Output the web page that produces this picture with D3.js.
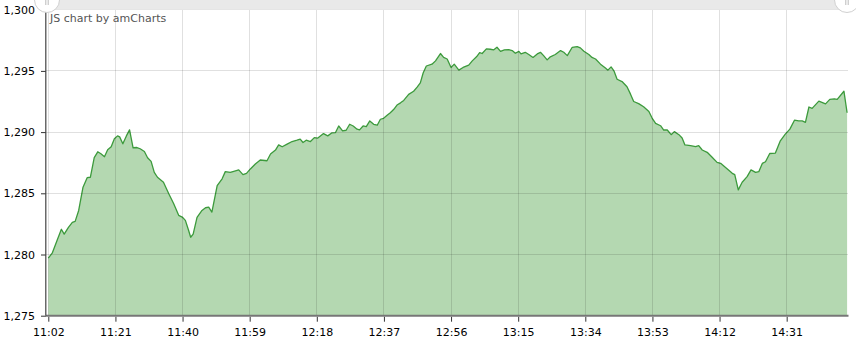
<!DOCTYPE html>
<html>
<head>
<meta charset="utf-8">
<script src="https://cdn.jsdelivr.net/npm/d3@7"></script>
<style>
  body { margin: 0; background: #fff; }
  svg { display: block; font-family: "DejaVu Sans", Verdana, sans-serif; }
</style>
</head>
<body>
<svg id="chart" width="856" height="340"></svg>
<script>
// minutes elapsed since 11:02, and the price read at that moment
const minutes = [
  0, 1.1, 2.5, 3.7, 4.5, 5.7, 6.8, 7.6, 8.6, 9.8, 11, 11.9, 13, 14, 14.9, 15.9, 16.8, 17.8, 18.7, 19.6,
  20.2, 21.1, 22.1, 23, 24, 25.1, 26, 27.2, 28.1, 29.1, 30, 30.9, 32.6, 34.1, 35.5, 36.9, 37.9, 38.8, 39.7, 40.3,
  41, 42.1, 43.5, 44.5, 45.4, 46.3, 47.8, 49.2, 50.1, 51.5, 52.5, 53.9, 55.1, 56.1, 57.2, 58.6, 60, 61.9, 62.9, 64.3,
  65.2, 66.2, 67.6, 69, 70.4, 71.3, 72.1, 73, 74.2, 75.3, 76.2, 77.9, 79.1, 80.3, 81.3, 82.2, 83.3, 84.3, 85.3, 86.3,
  87.4, 88.1, 89.1, 90, 91, 92.1, 93.1, 94, 94.9, 95.9, 96.8, 97.8, 98.7, 99.7, 100.6, 102, 103.4, 104.4, 105.3, 106.1,
  107, 108.6, 109.6, 111, 111.9, 112.9, 114, 114.9, 116.2, 117.4, 119, 120, 121.2, 122.1, 122.8, 124, 125.1, 126.1, 127, 128,
  129.1, 130.3, 131.3, 132.2, 133.2, 133.8, 135, 136, 137.2, 138.4, 139.3, 140.2, 141.2, 142.1, 143.5, 145, 145.9, 146.9, 148.3, 149.7,
  150.6, 151.6, 153, 153.9, 154.9, 156.3, 157.7, 158.4, 159.3, 160.1, 161, 162.4, 163.8, 164.8, 165.7, 167.1, 168.5, 170, 170.9, 171.9,
  173.3, 174.2, 175.2, 176.3, 177.2, 178.5, 179.4, 180.2, 181.8, 183.2, 184.1, 185.1, 186.5, 187.9, 189.3, 190.3, 192.2, 193.6, 194.3, 195.3,
  196.4, 197.8, 198.9, 200.2, 201.1, 202.1, 203, 204.2, 205.8, 207.2, 208.6, 209.9, 211.2, 212.4, 213.4, 214.3, 215.3, 216.2, 218.1, 220,
  221.2, 222.5, 223.3, 225.2, 226.1
];
const prices = [
  1279.71, 1280.11, 1281.17, 1282.06, 1281.66, 1282.22, 1282.63, 1282.71, 1283.6, 1285.47, 1286.28, 1286.31, 1287.91, 1288.39, 1288.23, 1287.99, 1288.56, 1288.8, 1289.45, 1289.69,
  1289.61, 1289.04, 1289.69, 1290.18, 1288.72, 1288.74, 1288.64, 1288.42, 1287.91, 1287.61, 1286.71, 1286.31, 1285.9, 1284.96, 1284.15, 1283.2, 1283.06, 1282.79, 1281.98, 1281.41,
  1281.66, 1283.04, 1283.6, 1283.82, 1283.87, 1283.47, 1285.63, 1286.18, 1286.77, 1286.71, 1286.79, 1286.91, 1286.53, 1286.63, 1286.99, 1287.39, 1287.72, 1287.66, 1288.21, 1288.53,
  1288.96, 1288.8, 1289.02, 1289.23, 1289.34, 1289.42, 1289.15, 1289.34, 1289.23, 1289.55, 1289.5, 1289.88, 1289.69, 1289.94, 1289.96, 1290.5, 1290.1, 1290.15, 1290.64, 1290.5,
  1290.24, 1290.18, 1290.5, 1290.45, 1290.91, 1290.64, 1290.56, 1291.05, 1291.13, 1291.37, 1291.58, 1291.86, 1292.21, 1292.39, 1292.59, 1293.08, 1293.34, 1293.67, 1294.02, 1294.83,
  1295.4, 1295.55, 1295.82, 1296.42, 1296.1, 1295.97, 1295.28, 1295.55, 1295.06, 1295.28, 1295.47, 1295.82, 1296.15, 1296.5, 1296.42, 1296.8, 1296.77, 1296.72, 1296.93, 1296.6,
  1296.72, 1296.74, 1296.66, 1296.44, 1296.6, 1296.39, 1296.52, 1296.34, 1296.1, 1296.39, 1296.52, 1296.25, 1295.9, 1296.15, 1296.34, 1296.66, 1296.52, 1296.25, 1296.93, 1296.99,
  1296.88, 1296.6, 1296.34, 1296.1, 1295.97, 1295.55, 1295.23, 1295.06, 1295.33, 1295.01, 1294.32, 1294.13, 1293.7, 1293.1, 1292.5, 1292.33, 1292.07, 1291.68, 1291.15, 1290.71,
  1290.52, 1290.17, 1290.17, 1289.79, 1290.04, 1289.79, 1289.52, 1288.95, 1288.89, 1288.81, 1288.89, 1288.54, 1288.35, 1287.94, 1287.53, 1287.45, 1286.99, 1286.63, 1286.53, 1285.28,
  1285.9, 1286.36, 1286.91, 1286.71, 1286.77, 1287.44, 1287.58, 1288.25, 1288.29, 1289.29, 1289.83, 1290.24, 1290.97, 1290.91, 1290.91, 1290.8, 1292.05, 1291.94, 1292.53, 1292.31,
  1292.67, 1292.72, 1292.67, 1293.34, 1291.58
];
const timeTicks = ["11:02", "11:21", "11:40", "11:59", "12:18", "12:37", "12:56", "13:15", "13:34", "13:53", "14:12", "14:31"];
const priceTicks = [1275, 1280, 1285, 1290, 1295, 1300];

const parseTime = d3.timeParse("%H:%M");
const start = parseTime("11:02");
const data = minutes.map((m, i) => ({t: d3.timeSecond.offset(start, Math.round(m * 60)), v: prices[i]}));

const svg = d3.select("#chart");
const plotLeft = 48.3, plotRight = 847.1, plotTop = 9.7, plotBottom = 315.7;

const x = d3.scaleTime()
  .domain(d3.extent(data, d => d.t))
  .range([plotLeft, plotRight]);
const y = d3.scaleLinear()
  .domain([1275, 1300])
  .range([plotBottom, plotTop]);

// area + line
svg.append("path")
  .datum(data)
  .attr("fill", "#b4d8b1")
  .attr("d", d3.area().x(d => x(d.t)).y0(plotBottom).y1(d => y(d.v)));
svg.append("path")
  .datum(data)
  .attr("fill", "none")
  .attr("stroke", "#3c9a3c")
  .attr("stroke-width", 1.3)
  .attr("stroke-linejoin", "round")
  .attr("d", d3.line().x(d => x(d.t)).y(d => y(d.v)));

// grid on top, semi transparent
const grid = svg.append("g").attr("stroke", "#000").attr("stroke-opacity", 0.12).attr("shape-rendering", "crispEdges");
grid.selectAll("line.v")
  .data(timeTicks.map(parseTime))
  .join("line")
  .attr("x1", d => x(d)).attr("x2", d => x(d))
  .attr("y1", plotTop).attr("y2", plotBottom - 1);
grid.selectAll("line.h")
  .data(priceTicks.slice(1))
  .join("line")
  .attr("x1", 46).attr("x2", 848)
  .attr("y1", d => y(d)).attr("y2", d => y(d));

// x axis
const xAxis = d3.axisBottom(x)
  .tickValues(timeTicks.map(parseTime))
  .tickFormat(d3.timeFormat("%H:%M"))
  .tickSize(5)
  .tickPadding(7);
const gx = svg.append("g")
  .attr("transform", `translate(0,${plotBottom + 1})`)
  .call(xAxis);
gx.select(".domain").remove();
gx.selectAll(".tick line").attr("stroke", "#333");
gx.selectAll("text").attr("font-size", 11).attr("fill", "#000").attr("font-family", "DejaVu Sans, Verdana, sans-serif");
svg.append("line")
  .attr("x1", 46).attr("x2", 848.5)
  .attr("y1", plotBottom).attr("y2", plotBottom)
  .attr("stroke", "#777").attr("stroke-width", 2);

// y axis
const yAxis = d3.axisLeft(y)
  .tickValues(priceTicks)
  .tickFormat(d3.format(","))
  .tickSize(5)
  .tickPadding(6);
const gy = svg.append("g")
  .attr("transform", "translate(46,0)")
  .call(yAxis);
gy.select(".domain").remove();
gy.selectAll(".tick line").attr("stroke", "#333");
gy.selectAll("text").attr("font-size", 11).attr("fill", "#000").attr("font-family", "DejaVu Sans, Verdana, sans-serif");
svg.append("line")
  .attr("x1", 45.8).attr("x2", 45.8)
  .attr("y1", plotTop).attr("y2", plotBottom)
  .attr("stroke", "#444").attr("stroke-width", 1.2);

// credit text
svg.append("text")
  .attr("x", 50).attr("y", 22)
  .attr("font-size", 11)
  .attr("fill", "#555")
  .text("JS chart by amCharts");

// scrollbar at the top
svg.append("rect")
  .attr("x", 47).attr("y", 0)
  .attr("width", 800).attr("height", 9.5)
  .attr("fill", "#e9e9e9");
const handles = svg.selectAll("g.handle")
  .data([47, 847])
  .join("g")
  .attr("transform", d => `translate(${d},0)`);
handles.append("circle")
  .attr("r", 12.5)
  .attr("fill", "#fff")
  .attr("stroke", "#d0d0d0");
handles.selectAll("line")
  .data([-1.2, 1.2])
  .join("line")
  .attr("x1", d => d).attr("x2", d => d)
  .attr("y1", 0).attr("y2", 5)
  .attr("stroke", "#aaa").attr("stroke-width", 0.8);
</script>
</body>
</html>
